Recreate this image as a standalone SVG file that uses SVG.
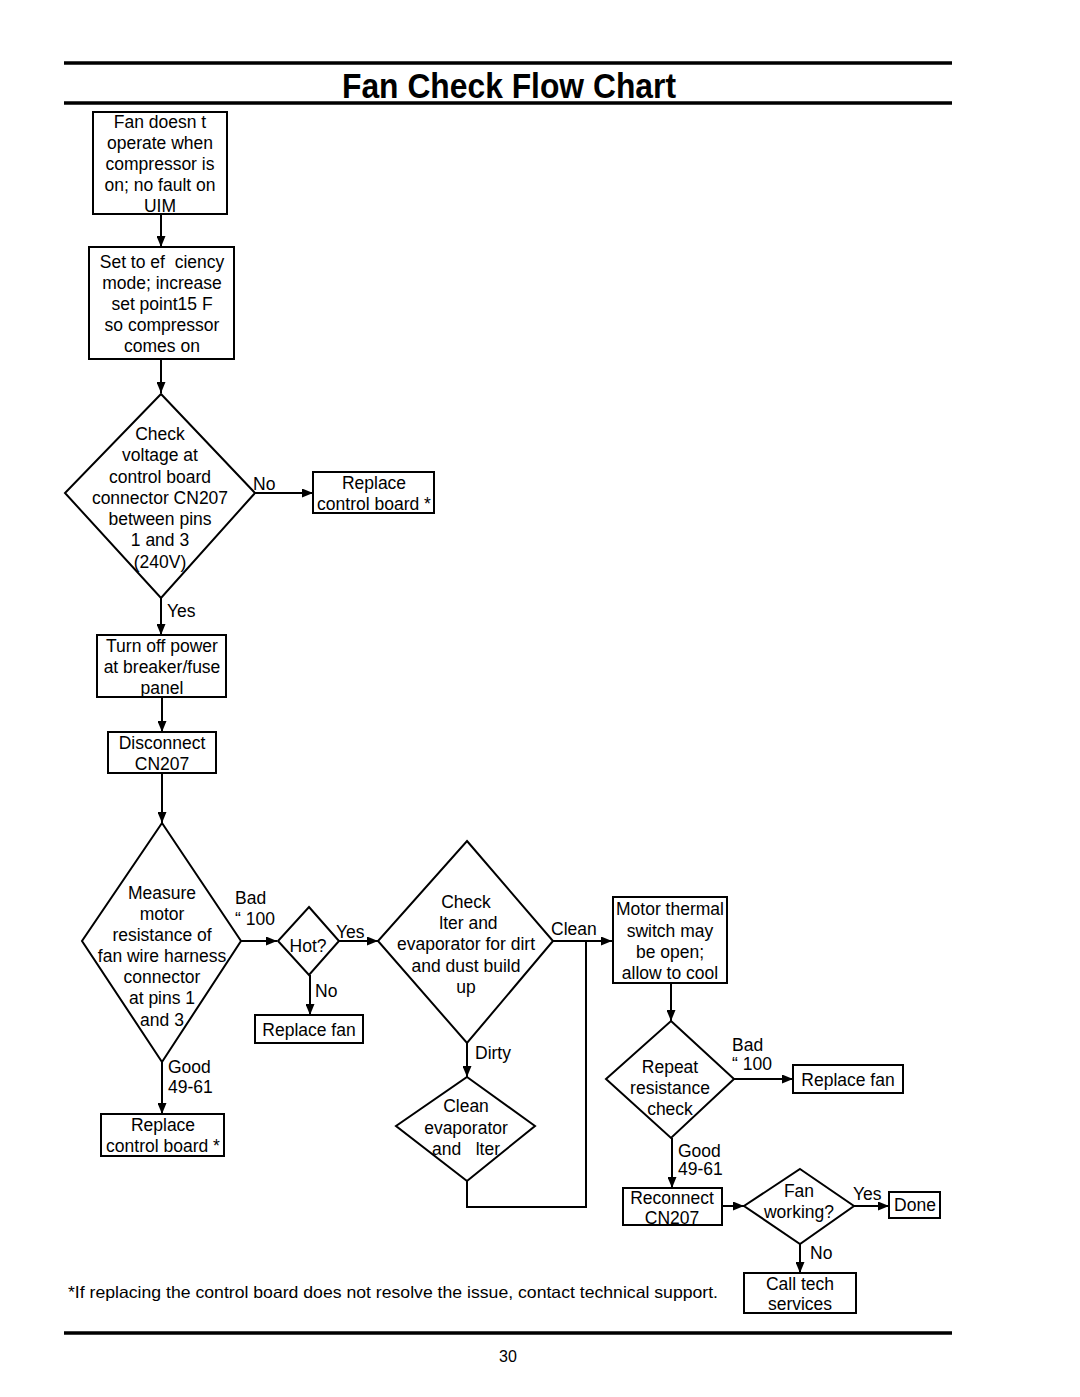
<svg xmlns="http://www.w3.org/2000/svg" width="1080" height="1397" viewBox="0 0 1080 1397">
<defs>
<style>
text{font-family:"Liberation Sans",Arial,sans-serif;font-size:17.5px;fill:#000;white-space:pre}
.c{text-anchor:middle}
.box{fill:#fff;stroke:#000;stroke-width:2}
.ln{fill:none;stroke:#000;stroke-width:2}
.rule{stroke:#000;stroke-width:3.5}
</style>
<marker id="ah" markerUnits="userSpaceOnUse" markerWidth="11" markerHeight="9" refX="11" refY="4.5" orient="auto">
<path d="M0,0 L11,4.5 L0,9 z" fill="#000"/>
</marker>
</defs>
<rect width="1080" height="1397" fill="#fff"/>
<line class="rule" x1="64" y1="63" x2="952" y2="63"/>
<line class="rule" x1="64" y1="103" x2="952" y2="103"/>
<text x="509" y="98" class="c" style="font-size:35px;font-weight:bold" textLength="334" lengthAdjust="spacingAndGlyphs">Fan Check Flow Chart</text>

<g id="connectors">
<line class="ln" x1="161" y1="214" x2="161" y2="247" marker-end="url(#ah)"/>
<line class="ln" x1="161" y1="359" x2="161" y2="393" marker-end="url(#ah)"/>
<line class="ln" x1="254" y1="493" x2="313" y2="493" marker-end="url(#ah)"/>
<line class="ln" x1="161" y1="598" x2="161" y2="635" marker-end="url(#ah)"/>
<line class="ln" x1="162" y1="697" x2="162" y2="732" marker-end="url(#ah)"/>
<line class="ln" x1="162" y1="773" x2="162" y2="823" marker-end="url(#ah)"/>
<line class="ln" x1="241" y1="941" x2="277" y2="941" marker-end="url(#ah)"/>
<line class="ln" x1="162" y1="1062" x2="162" y2="1114" marker-end="url(#ah)"/>
<line class="ln" x1="339" y1="941" x2="378" y2="941" marker-end="url(#ah)"/>
<line class="ln" x1="310" y1="975" x2="310" y2="1015" marker-end="url(#ah)"/>
<line class="ln" x1="553" y1="941" x2="612" y2="941" marker-end="url(#ah)"/>
<line class="ln" x1="467" y1="1043" x2="467" y2="1077" marker-end="url(#ah)"/>
<polyline class="ln" points="467,1181 467,1207 586,1207 586,941"/>
<line class="ln" x1="671" y1="984" x2="671" y2="1021" marker-end="url(#ah)"/>
<line class="ln" x1="734" y1="1079" x2="793" y2="1079" marker-end="url(#ah)"/>
<line class="ln" x1="672" y1="1138" x2="672" y2="1188" marker-end="url(#ah)"/>
<line class="ln" x1="722" y1="1206" x2="744" y2="1206" marker-end="url(#ah)"/>
<line class="ln" x1="854" y1="1206" x2="889" y2="1206" marker-end="url(#ah)"/>
<line class="ln" x1="800" y1="1244" x2="800" y2="1273" marker-end="url(#ah)"/>
<text x="253" y="490">No</text>
<text x="167" y="617">Yes</text>
<text x="235" y="904">Bad</text>
<text x="235" y="925">“ 100</text>
<text x="336" y="938">Yes</text>
<text x="315" y="997">No</text>
<text x="168" y="1073">Good</text>
<text x="168" y="1093">49-61</text>
<text x="551" y="935">Clean</text>
<text x="475" y="1059">Dirty</text>
<text x="732" y="1051">Bad</text>
<text x="732" y="1070">“ 100</text>
<text x="678" y="1157">Good</text>
<text x="678" y="1175">49-61</text>
<text x="853" y="1200">Yes</text>
<text x="810" y="1259">No</text>
</g>

<g id="n1"><rect class="box" x="93" y="112" width="134" height="102"/>
<text class="c" x="160" y="128">Fan doesn t</text><text class="c" x="160" y="149">operate when</text><text class="c" x="160" y="170">compressor is</text><text class="c" x="160" y="191">on; no fault on</text><text class="c" x="160" y="212">UIM</text></g>

<g id="n2"><rect class="box" x="89" y="247" width="145" height="112"/>
<text class="c" x="162" y="268">Set to ef  ciency</text><text class="c" x="162" y="289">mode; increase</text><text class="c" x="162" y="310">set point15 F</text><text class="c" x="162" y="331">so compressor</text><text class="c" x="162" y="352">comes on</text></g>

<g id="n3"><polygon class="box" points="161,394 255,493 161,598 65,493"/>
<text class="c" x="160" y="440">Check</text><text class="c" x="160" y="461">voltage at</text><text class="c" x="160" y="483">control board</text><text class="c" x="160" y="504">connector CN207</text><text class="c" x="160" y="525">between pins</text><text class="c" x="160" y="546">1 and 3</text><text class="c" x="160" y="568">(240V)</text></g>

<g id="n4"><rect class="box" x="313" y="472" width="121" height="41"/>
<text class="c" x="374" y="489">Replace</text><text class="c" x="374" y="510">control board *</text></g>

<g id="n5"><rect class="box" x="97" y="635" width="129" height="62"/>
<text class="c" x="162" y="652">Turn off power</text><text class="c" x="162" y="673">at breaker/fuse</text><text class="c" x="162" y="694">panel</text></g>

<g id="n6"><rect class="box" x="108" y="732" width="108" height="41"/>
<text class="c" x="162" y="749">Disconnect</text><text class="c" x="162" y="770">CN207</text></g>

<g id="n7"><polygon class="box" points="162,823 241,941 162,1062 82,941"/>
<text class="c" x="162" y="899">Measure</text><text class="c" x="162" y="920">motor</text><text class="c" x="162" y="941">resistance of</text><text class="c" x="162" y="962">fan wire harness</text><text class="c" x="162" y="983">connector</text><text class="c" x="162" y="1004">at pins 1</text><text class="c" x="162" y="1026">and 3</text></g>

<g id="n8"><polygon class="box" points="309,907 339,941 309,975 278,941"/>
<text class="c" x="308" y="952">Hot?</text></g>

<g id="n9"><rect class="box" x="255" y="1015" width="108" height="28"/>
<text class="c" x="309" y="1036">Replace fan</text></g>

<g id="n10"><rect class="box" x="101" y="1114" width="123" height="42"/>
<text class="c" x="163" y="1131">Replace</text><text class="c" x="163" y="1152">control board *</text></g>

<g id="n11"><polygon class="box" points="467,841 553,941 467,1043 378,941"/>
<text class="c" x="466" y="908">Check</text><text class="c" x="466" y="929"> lter and</text><text class="c" x="466" y="950">evaporator for dirt</text><text class="c" x="466" y="972">and dust build</text><text class="c" x="466" y="993">up</text></g>

<g id="n12"><polygon class="box" points="467,1077 535,1126 467,1181 396,1126"/>
<text class="c" x="466" y="1112">Clean</text><text class="c" x="466" y="1134">evaporator</text><text class="c" x="466" y="1155">and   lter</text></g>

<g id="n13"><rect class="box" x="613" y="897" width="114" height="86"/>
<text class="c" x="670" y="915">Motor thermal</text><text class="c" x="670" y="937">switch may</text><text class="c" x="670" y="958">be open;</text><text class="c" x="670" y="979">allow to cool</text></g>

<g id="n14"><polygon class="box" points="671,1021 734,1079 671,1138 606,1079"/>
<text class="c" x="670" y="1073">Repeat</text><text class="c" x="670" y="1094">resistance</text><text class="c" x="670" y="1115">check</text></g>

<g id="n15"><rect class="box" x="793" y="1065" width="110" height="28"/>
<text class="c" x="848" y="1086">Replace fan</text></g>

<g id="n16"><rect class="box" x="623" y="1188" width="99" height="37"/>
<text class="c" x="672" y="1204">Reconnect</text><text class="c" x="672" y="1224">CN207</text></g>

<g id="n17"><polygon class="box" points="800,1169 854,1206 800,1244 744,1206"/>
<text class="c" x="799" y="1197">Fan</text><text class="c" x="799" y="1218">working?</text></g>

<g id="n18"><rect class="box" x="889" y="1192" width="51" height="26"/>
<text class="c" x="915" y="1211">Done</text></g>

<g id="n19"><rect class="box" x="744" y="1273" width="112" height="40"/>
<text class="c" x="800" y="1290">Call tech</text><text class="c" x="800" y="1310">services</text></g>

<text x="68" y="1298" style="font-size:16.5px" textLength="650" lengthAdjust="spacingAndGlyphs">*If replacing the control board does not resolve the issue, contact technical support.</text>
<line class="rule" x1="64" y1="1333" x2="952" y2="1333"/>
<text class="c" x="508" y="1362" style="font-size:16px">30</text>
</svg>
